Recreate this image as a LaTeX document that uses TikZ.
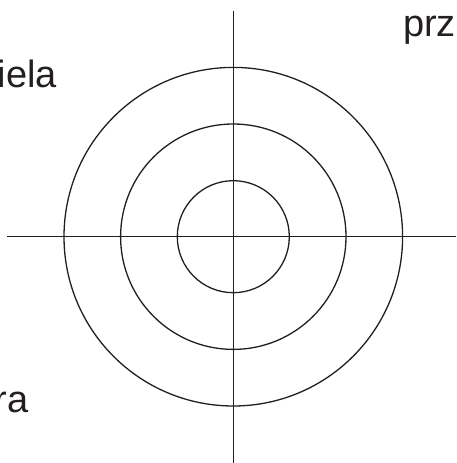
\documentclass[tikz,border=0pt]{standalone}
\usepackage{fontspec}
\setmainfont{Liberation Sans}
\usepackage{xcolor}
\definecolor{ink}{HTML}{231F20}

\begin{document}
\begin{tikzpicture}[
  x=1pt, y=1pt,
  axis/.style={draw=ink, line width=1.3pt},
  ring/.style={draw=ink, line width=1.3pt},
  lbl/.style={text=ink, inner sep=0pt, font=\fontsize{38}{44}\selectfont},
]
  \useasboundingbox (0,0) rectangle (456,463);
  % --- centre and axis ends ---
  \coordinate (c) at (233.3,226.3);
  \coordinate (top) at (233.3,452.3);
  \coordinate (bot) at (233.3,0);
  \coordinate (lft) at (7,226.3);
  \coordinate (rgt) at (456,226.3);
  % --- rings ---
  \foreach \r in {56,112.7,169.3}
    \draw[ring] (c) circle (\r);
  % --- axes ---
  \draw[axis] (top) -- (bot);
  \draw[axis] (lft) -- (rgt);
  % --- labels, cut at the edge ---
  \node[lbl, anchor=base west] (prz) at (403,426) {prz};
  \node[lbl, anchor=base west] (iela) at (-2.5,375) {iela};
  \node[lbl, anchor=base east] (ra) at (28.5,50) {ra};
\end{tikzpicture}
\end{document}
